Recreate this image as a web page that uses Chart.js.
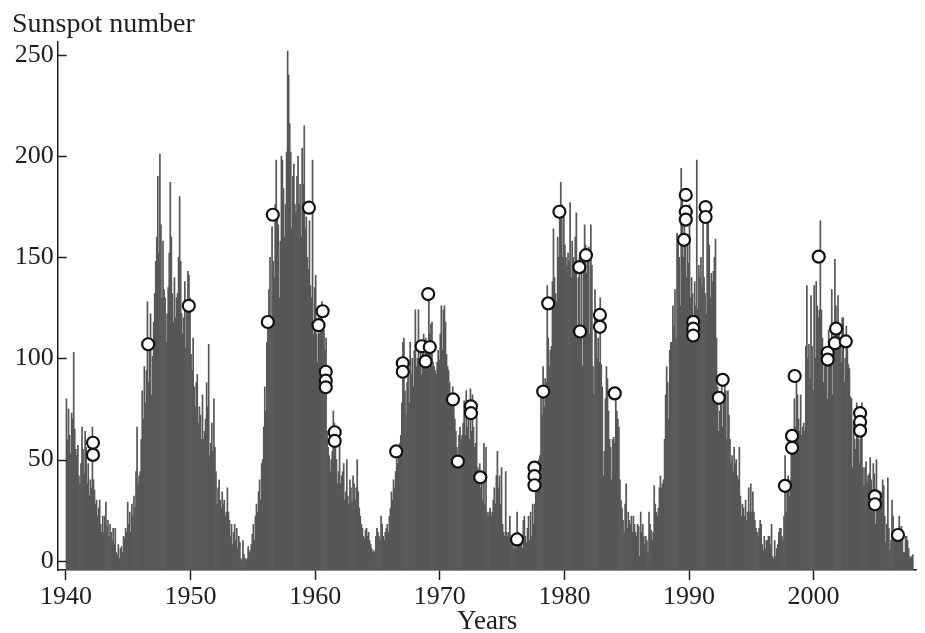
<!DOCTYPE html>
<html>
<head>
<meta charset="utf-8">
<script src="https://cdn.jsdelivr.net/npm/chart.js@4.4.1/dist/chart.umd.min.js"></script>
<style>
  html, body { margin: 0; padding: 0; background: #fff; }
  #wrap { width: 925px; height: 633px; }
</style>
</head>
<body>
<div id="wrap"><canvas id="sunspotChart" width="925" height="633"></canvas></div>
<script>
// ---- data ----
const startYear = 1940;

// monthly sunspot numbers, Jan..Dec, one row per year (1940 - 2007)
const monthlySunspots = [
  80, 60, 75, 62, 53, 73, 70, 103, 65, 55, 52, 57,        // 1940
  42, 38, 48, 66, 55, 43, 64, 56, 38, 48, 32, 40,         // 1941
  36, 66, 40, 35, 28, 30, 22, 26, 30, 18, 14, 22,         // 1942
  14, 22, 29, 17, 20, 12, 18, 14, 10, 16, 8, 16,          // 1943
  4, 3, 8, 1, 6, 7, 4, 12, 11, 16, 14, 29,                // 1944
  18, 24, 14, 28, 22, 32, 26, 44, 66, 38, 42, 44,         // 1945
  60, 84, 70, 96, 78, 94, 128, 88, 108, 122, 82, 101,     // 1946
  118, 132, 148, 160, 190, 152, 201, 166, 130, 158, 134, 130, // 1947
  108, 122, 135, 152, 187, 160, 132, 118, 140, 120, 130, 132, // 1948
  150, 180, 148, 122, 112, 120, 138, 105, 128, 143, 141, 130, // 1949
  102, 94, 110, 86, 76, 88, 92, 68, 76, 72, 60, 82,       // 1950
  60, 64, 70, 88, 76, 107, 52, 58, 68, 54, 80, 56,        // 1951
  44, 28, 36, 40, 30, 26, 34, 28, 30, 22, 24, 36,         // 1952
  24, 20, 12, 18, 8, 14, 18, 10, 16, 6, 12, 9,            // 1953
  1, 0, 10, 3, 1, 0, 1, 7, 4, 5, 8, 13,                   // 1954
  18, 10, 22, 28, 24, 34, 40, 30, 48, 50, 66, 86,         // 1955
  74, 108, 120, 134, 150, 118, 165, 148, 140, 176, 198, 170, // 1956
  166, 130, 158, 200, 198, 184, 160, 176, 202, 252, 240, 216, // 1957
  202, 164, 190, 196, 176, 172, 190, 200, 176, 186, 160, 204, // 1958
  186, 215, 164, 170, 150, 144, 168, 136, 130, 198, 112, 135, // 1959
  141, 112, 98, 126, 112, 122, 128, 116, 114, 104, 110, 64,   // 1960
  56, 52, 44, 50, 54, 74, 68, 56, 50, 38, 44, 60,         // 1961
  38, 42, 44, 48, 30, 34, 50, 32, 28, 40, 36, 29,         // 1962
  42, 38, 30, 36, 50, 34, 26, 22, 18, 16, 12, 11,         // 1963
  15, 16, 12, 14, 10, 8, 6, 4, 5, 4, 12, 16,              // 1964
  14, 12, 10, 22, 18, 12, 10, 14, 16, 18, 14, 22,         // 1965
  26, 34, 30, 40, 36, 44, 52, 48, 56, 58, 62, 78,         // 1966
  108, 110, 84, 72, 88, 96, 78, 108, 92, 100, 86, 104,    // 1967
  124, 96, 100, 124, 98, 108, 92, 104, 112, 96, 110, 107, // 1968
  104, 134, 112, 117, 118, 98, 96, 94, 92, 98, 104, 99,   // 1969
  112, 126, 104, 124, 126, 118, 102, 96, 94, 88, 82, 82,  // 1970
  86, 78, 70, 64, 56, 48, 62, 66, 60, 62, 68, 79,         // 1971
  62, 84, 66, 72, 60, 85, 64, 82, 66, 56, 58, 72,         // 1972
  46, 40, 48, 36, 44, 30, 58, 28, 56, 24, 22, 24,         // 1973
  26, 22, 24, 30, 36, 28, 42, 54, 36, 42, 28, 46,         // 1974
  18, 14, 12, 44, 14, 12, 14, 22, 10, 8, 12, 6,           // 1975
  8, 6, 24, 14, 8, 10, 12, 6, 20, 22, 12, 9,              // 1976
  16, 22, 10, 24, 12, 28, 18, 28, 44, 38, 40, 50,         // 1977
  52, 84, 72, 96, 76, 90, 88, 136, 110, 96, 104, 106,     // 1978
  138, 164, 140, 132, 128, 160, 150, 170, 187, 176, 150, 170, // 1979
  156, 150, 146, 152, 148, 177, 140, 158, 150, 146, 160, 172, // 1980
  112, 140, 150, 116, 150, 96, 152, 166, 156, 142, 150, 155,  // 1981
  112, 166, 146, 96, 82, 134, 120, 100, 110, 98, 130, 97,     // 1982
  86, 42, 54, 80, 96, 90, 74, 60, 56, 40, 60, 61,         // 1983
  58, 86, 74, 70, 66, 40, 30, 26, 20, 14, 28, 38,         // 1984
  16, 24, 20, 18, 22, 14, 22, 18, 14, 12, 18, 17,         // 1985
  2, 24, 14, 18, 12, 8, 12, 10, 4, 24, 18, 15,            // 1986
  10, 14, 37, 28, 24, 22, 26, 36, 42, 36, 38, 40,         // 1987
  60, 82, 96, 88, 70, 104, 108, 108, 126, 116, 134, 110,  // 1988
  162, 160, 150, 126, 194, 178, 150, 168, 160, 140, 156, 147, // 1989
  176, 130, 140, 132, 110, 138, 126, 198, 124, 146, 140, 150, // 1990
  136, 168, 140, 132, 122, 172, 170, 156, 130, 142, 138, 143, // 1991
  150, 159, 110, 86, 64, 74, 82, 86, 66, 82, 88, 84,      // 1992
  60, 84, 72, 60, 48, 52, 44, 56, 48, 50, 42, 40,         // 1993
  56, 32, 22, 28, 26, 22, 30, 20, 24, 36, 24, 38,         // 1994
  24, 34, 24, 20, 16, 14, 12, 16, 20, 18, 8, 5,           // 1995
  12, 6, 10, 10, 12, 12, 8, 18, 2, 1, 10, 2,              // 1996
  6, 8, 14, 16, 16, 12, 10, 22, 52, 24, 34, 42,           // 1997
  32, 40, 54, 54, 54, 80, 66, 94, 82, 70, 64, 82,         // 1998
  62, 66, 68, 64, 106, 136, 100, 107, 90, 131, 106, 84,   // 1999
  136, 100, 138, 126, 120, 124, 168, 124, 110, 88, 96, 104, // 2000
  96, 80, 114, 108, 96, 134, 82, 106, 149, 126, 106, 131, // 2001
  114, 108, 98, 120, 120, 88, 100, 116, 109, 97, 95, 81,  // 2002
  80, 46, 69, 60, 55, 78, 68, 60, 48, 76, 78, 46,         // 2003
  37, 46, 49, 39, 42, 43, 51, 40, 27, 48, 43, 18,         // 2004
  50, 29, 25, 25, 34, 30, 40, 37, 22, 9, 18, 41,          // 2005
  16, 5, 10, 30, 22, 14, 12, 13, 15, 10, 22, 13,          // 2006
  17, 11, 4, 4, 12, 12, 10, 6, 2, 1, 2, 3                 // 2007
];

// marked events (open circles): time in years and sunspot number
const eventYears = [
  1942.17, 1942.17, 1946.6, 1949.86, 1956.2, 1956.6, 1959.5, 1960.27, 1960.6,
  1960.85, 1960.85, 1960.85, 1961.57, 1961.57, 1966.5, 1967.03, 1967.03,
  1968.54, 1968.86, 1969.2, 1969.07, 1971.06, 1971.45, 1972.5, 1972.5, 1973.25,
  1976.2, 1977.6, 1977.6, 1977.6, 1978.3, 1978.7, 1979.6, 1981.2, 1981.26,
  1981.73, 1982.85, 1982.85, 1984.04, 1989.6, 1989.74, 1989.74, 1989.74,
  1990.34, 1990.34, 1990.34, 1991.33, 1991.33, 1992.39, 1992.7, 1997.7,
  1998.27, 1998.27, 1998.48, 2000.41, 2001.13, 2001.13, 2001.71, 2001.8,
  2002.58, 2003.73, 2003.73, 2003.73, 2004.92, 2004.92, 2006.77
];
const eventValues = [
  58.3, 52.3, 107, 126, 118, 171, 174.5, 116.4, 123.3,
  93.4, 89, 85.7, 63.5, 59.2, 54, 97.6, 93.4,
  106, 98.5, 105.6, 131.8, 79.7, 49, 76.3, 72.9, 41.2,
  10.5, 46, 41.8, 37.3, 83.6, 127.2, 172.5, 145.1, 113.3,
  151, 121.5, 115.6, 82.7, 158.6, 180.8, 172.5, 168.6,
  118.1, 114.7, 111.3, 174.8, 169.9, 80.5, 89.4, 37,
  61.7, 55.8, 91.3, 150.3, 102.8, 99.4, 107.5, 114.7,
  108.4, 72.9, 68.6, 64.3, 31.8, 27.9, 12.7
];

const yearTicks = [1940, 1950, 1960, 1970, 1980, 1990, 2000];
const valueTicks = [0, 50, 100, 150, 200, 250];

// ---- style ----
const xMin = 1939.34, xMax = 2008.28;
const yMin = -4.6, yMax = 256.4;
const barColor = "#575757";
const inkColor = "#1e1e1e";
const serif = "'Liberation Serif', 'Times New Roman', serif";

const barPoints = monthlySunspots.map((v, i) => ({ x: startYear + (i + 0.5) / 12, y: v }));
const eventPoints = eventYears.map((t, i) => ({ x: t, y: eventValues[i] }));

// y ticks point inward (into the plot)
const innerTicks = {
  id: "innerTicks",
  afterDatasetsDraw(chart) {
    const { ctx, chartArea, scales } = chart;
    ctx.save();
    ctx.strokeStyle = inkColor;
    ctx.lineWidth = 1.5;
    scales.y.ticks.forEach(t => {
      const py = Math.round(scales.y.getPixelForValue(t.value)) + 0.5;
      ctx.beginPath();
      ctx.moveTo(chartArea.left, py);
      ctx.lineTo(chartArea.left + 9, py);
      ctx.stroke();
    });
    ctx.restore();
  }
};

const ctx = document.getElementById("sunspotChart").getContext("2d");
new Chart(ctx, {
  type: "bar",
  data: {
    datasets: [
      {
        type: "scatter",
        data: eventPoints,
        pointRadius: 6,
        pointBackgroundColor: "#ffffff",
        pointBorderColor: "#111111",
        pointBorderWidth: 2.2,
        order: 1
      },
      {
        type: "bar",
        data: barPoints,
        backgroundColor: barColor,
        borderWidth: 0,
        barPercentage: 1,
        categoryPercentage: 1,
        base: yMin,
        order: 2
      }
    ]
  },
  options: {
    responsive: false,
    animation: false,
    layout: { padding: { left: 12, right: 0, top: 0, bottom: 0 } },
    plugins: {
      legend: { display: false },
      tooltip: { enabled: false },
      title: {
        display: true,
        text: "Sunspot number",
        align: "start",
        color: inkColor,
        font: { family: serif, size: 28, weight: "normal", lineHeight: 1.2 },
        padding: { top: 8, bottom: 0.4 }
      }
    },
    scales: {
      x: {
        type: "linear",
        min: xMin,
        max: xMax,
        offset: false,
        afterBuildTicks: (axis) => { axis.ticks = yearTicks.map(v => ({ value: v })); },
        afterFit: (axis) => { axis.height = 63; },
        grid: {
          offset: false,
          drawOnChartArea: false,
          drawTicks: true,
          tickLength: 10,
          tickColor: inkColor,
          tickWidth: 1.5
        },
        border: { display: true, color: inkColor, width: 1.5 },
        ticks: {
          autoSkip: false,
          maxRotation: 0,
          padding: 2,
          color: inkColor,
          font: { family: serif, size: 26 },
          callback: (v) => String(v)
        },
        title: {
          display: true,
          text: "Years",
          color: inkColor,
          font: { family: serif, size: 27, lineHeight: 0.8 },
          padding: 0
        }
      },
      y: {
        min: yMin,
        max: yMax,
        afterBuildTicks: (axis) => { axis.ticks = valueTicks.map(v => ({ value: v })); },
        afterFit: (axis) => { axis.width = 45.7; },
        grid: { display: false, drawTicks: false },
        border: { display: true, color: inkColor, width: 1.5 },
        ticks: {
          padding: 4,
          color: inkColor,
          font: { family: serif, size: 26 }
        }
      }
    }
  },
  plugins: [innerTicks]
});
</script>
</body>
</html>
